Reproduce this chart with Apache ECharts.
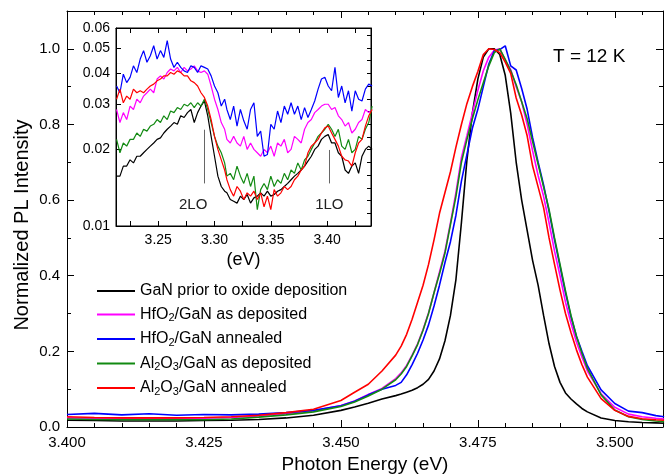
<!DOCTYPE html>
<html>
<head>
<meta charset="utf-8">
<script src="https://cdn.jsdelivr.net/npm/echarts@6/dist/echarts.min.js"></script>
<style>
html, body { margin: 0; padding: 0; background: #fff; }
#chart { width: 668px; height: 474px; }
</style>
</head>
<body>
<div id="chart"></div>
<script>
// main spectrum, photon energy (eV)
const energy = [3.400, 3.405, 3.410, 3.415, 3.420, 3.425, 3.430, 3.435, 3.440, 3.445, 3.450,
    3.4525, 3.455, 3.4575,
    3.460, 3.461, 3.462, 3.463, 3.464, 3.465, 3.466, 3.467, 3.468, 3.469,
    3.470, 3.471, 3.472, 3.473, 3.474, 3.475, 3.476, 3.477, 3.478, 3.479,
    3.480, 3.481, 3.482, 3.483, 3.484, 3.485, 3.486, 3.487, 3.488, 3.489,
    3.490, 3.491, 3.492, 3.493, 3.494, 3.495,
    3.4975, 3.500, 3.5025, 3.505, 3.5075, 3.509]

const ganPrior = [0.018, 0.017, 0.016, 0.016, 0.016, 0.017, 0.018, 0.020, 0.024, 0.031, 0.044,
    0.053, 0.063, 0.074,
    0.083, 0.087, 0.092, 0.097, 0.104, 0.113, 0.126, 0.148, 0.180, 0.228,
    0.295, 0.390, 0.540, 0.705, 0.830, 0.920, 0.978, 1.000, 1.000, 0.985,
    0.930, 0.830, 0.700, 0.600, 0.520, 0.440, 0.375, 0.295, 0.220, 0.160,
    0.118, 0.090, 0.074, 0.061, 0.049, 0.040,
    0.024, 0.017, 0.014, 0.012, 0.011, 0.010]
const hfoDep = [0.024, 0.023, 0.022, 0.022, 0.022, 0.023, 0.025, 0.029, 0.035, 0.043, 0.057,
    0.069, 0.086, 0.102,
    0.128, 0.143, 0.163, 0.190, 0.220, 0.258, 0.302, 0.355, 0.410, 0.465,
    0.540, 0.620, 0.712, 0.770, 0.830, 0.890, 0.942, 0.978, 0.996, 1.000,
    0.970, 0.945, 0.900, 0.860, 0.800, 0.730, 0.665, 0.610, 0.540, 0.465,
    0.400, 0.330, 0.275, 0.225, 0.185, 0.148,
    0.088, 0.052, 0.034, 0.027, 0.023, 0.021]
const hfoAnn = [0.033, 0.036, 0.032, 0.035, 0.031, 0.033, 0.032, 0.034, 0.038, 0.044, 0.056,
    0.068, 0.085, 0.100,
    0.110, 0.118, 0.138, 0.165, 0.195, 0.230, 0.270, 0.320, 0.375, 0.435,
    0.490, 0.560, 0.650, 0.720, 0.790, 0.840, 0.900, 0.960, 0.995, 0.998,
    1.008, 0.955, 0.944, 0.895, 0.840, 0.765, 0.700, 0.640, 0.570, 0.495,
    0.425, 0.355, 0.292, 0.240, 0.200, 0.162,
    0.098, 0.062, 0.042, 0.038, 0.030, 0.027]
const aloDep = [0.021, 0.020, 0.019, 0.019, 0.019, 0.019, 0.021, 0.026, 0.032, 0.040, 0.054,
    0.066, 0.082, 0.100,
    0.125, 0.140, 0.160, 0.188, 0.218, 0.256, 0.300, 0.355, 0.405, 0.460,
    0.535, 0.610, 0.700, 0.760, 0.815, 0.865, 0.910, 0.955, 0.990, 1.000,
    0.972, 0.942, 0.905, 0.860, 0.815, 0.755, 0.695, 0.635, 0.575, 0.500,
    0.430, 0.360, 0.295, 0.240, 0.195, 0.155,
    0.085, 0.045, 0.027, 0.020, 0.016, 0.014]
const aloAnn = [0.027, 0.025, 0.024, 0.024, 0.024, 0.025, 0.027, 0.031, 0.038, 0.047, 0.070,
    0.092, 0.113, 0.148,
    0.190, 0.214, 0.245, 0.285, 0.330, 0.375, 0.430, 0.495, 0.565, 0.620,
    0.675, 0.740, 0.800, 0.855, 0.900, 0.940, 0.985, 1.000, 0.998, 0.990,
    0.965, 0.935, 0.870, 0.825, 0.770, 0.690, 0.635, 0.580, 0.500, 0.430,
    0.362, 0.300, 0.250, 0.204, 0.165, 0.132,
    0.075, 0.044, 0.028, 0.022, 0.019, 0.018]

// inset, log scale
const insetEnergy = [3.213, 3.216, 3.219, 3.222, 3.225, 3.228, 3.231, 3.234, 3.237, 3.240,
    3.243, 3.246, 3.249, 3.252, 3.255, 3.258, 3.261, 3.264, 3.267, 3.270,
    3.273, 3.276, 3.279, 3.282, 3.285, 3.288, 3.291, 3.294, 3.297, 3.300,
    3.303, 3.306, 3.309, 3.311, 3.314, 3.317, 3.320, 3.323, 3.326, 3.329,
    3.332, 3.335, 3.338, 3.341, 3.344, 3.347, 3.350, 3.353, 3.356, 3.359,
    3.362, 3.365, 3.368, 3.371, 3.374, 3.377, 3.380, 3.383, 3.386, 3.389,
    3.392, 3.395, 3.398, 3.401, 3.404, 3.407, 3.410, 3.413, 3.416, 3.419,
    3.422, 3.425, 3.428, 3.431, 3.434, 3.437, 3.440]
const insetGan = [0.0157, 0.0157, 0.0172, 0.0172, 0.0182, 0.0177, 0.0188, 0.0188, 0.0194, 0.0200,
    0.0206, 0.0212, 0.0219, 0.0222, 0.0232, 0.0240, 0.0247, 0.0255, 0.0251, 0.0271,
    0.0267, 0.0279, 0.0287, 0.0255, 0.0279, 0.0296, 0.0310, 0.0271, 0.0225, 0.0188,
    0.0157, 0.0143, 0.0137, 0.0135, 0.0127, 0.0125, 0.0123, 0.0131, 0.0127, 0.0133,
    0.0123, 0.0129, 0.0131, 0.0135, 0.0131, 0.0137, 0.0131, 0.0133, 0.0137, 0.0139,
    0.0143, 0.0147, 0.0152, 0.0157, 0.0161, 0.0166, 0.0172, 0.0180, 0.0188, 0.0200,
    0.0206, 0.0219, 0.0225, 0.0229, 0.0212, 0.0212, 0.0194, 0.0188, 0.0166, 0.0161,
    0.0172, 0.0177, 0.0161, 0.0188, 0.0200, 0.0206, 0.0200]
const insetHfoDep = [0.0287, 0.0255, 0.0279, 0.0262, 0.0296, 0.0287, 0.0315, 0.0305, 0.0324, 0.0334,
    0.0345, 0.0334, 0.0378, 0.0389, 0.0378, 0.0401, 0.0414, 0.0407, 0.0420, 0.0401,
    0.0420, 0.0407, 0.0414, 0.0426, 0.0407, 0.0401, 0.0407, 0.0395, 0.0355, 0.0315,
    0.0287, 0.0255, 0.0240, 0.0219, 0.0212, 0.0225, 0.0212, 0.0206, 0.0225, 0.0200,
    0.0212, 0.0200, 0.0194, 0.0188, 0.0200, 0.0194, 0.0206, 0.0188, 0.0212, 0.0206,
    0.0219, 0.0194, 0.0200, 0.0225, 0.0219, 0.0212, 0.0240, 0.0255, 0.0262, 0.0279,
    0.0287, 0.0296, 0.0301, 0.0301, 0.0287, 0.0292, 0.0271, 0.0262, 0.0247, 0.0255,
    0.0232, 0.0240, 0.0255, 0.0262, 0.0287, 0.0279, 0.0287]
const insetHfoAnn = [0.0355, 0.0334, 0.0395, 0.0366, 0.0384, 0.0426, 0.0401, 0.0453, 0.0489, 0.0440,
    0.0467, 0.0511, 0.0453, 0.0489, 0.0460, 0.0535, 0.0453, 0.0420, 0.0440, 0.0420,
    0.0407, 0.0401, 0.0426, 0.0420, 0.0401, 0.0426, 0.0420, 0.0414, 0.0389, 0.0355,
    0.0334, 0.0296, 0.0315, 0.0287, 0.0262, 0.0296, 0.0247, 0.0287, 0.0259, 0.0240,
    0.0287, 0.0305, 0.0225, 0.0236, 0.0188, 0.0191, 0.0251, 0.0240, 0.0283, 0.0255,
    0.0296, 0.0275, 0.0305, 0.0275, 0.0296, 0.0262, 0.0292, 0.0267, 0.0287, 0.0310,
    0.0345, 0.0378, 0.0384, 0.0355, 0.0340, 0.0420, 0.0320, 0.0355, 0.0305, 0.0340,
    0.0283, 0.0340, 0.0315, 0.0310, 0.0345, 0.0361, 0.0355]
const insetAloDep = [0.0219, 0.0194, 0.0212, 0.0206, 0.0219, 0.0219, 0.0232, 0.0225, 0.0240, 0.0236,
    0.0247, 0.0251, 0.0262, 0.0255, 0.0271, 0.0262, 0.0283, 0.0279, 0.0292, 0.0287,
    0.0301, 0.0296, 0.0305, 0.0292, 0.0305, 0.0296, 0.0315, 0.0287, 0.0255, 0.0225,
    0.0206, 0.0194, 0.0177, 0.0157, 0.0161, 0.0152, 0.0172, 0.0157, 0.0147, 0.0161,
    0.0143, 0.0157, 0.0116, 0.0139, 0.0147, 0.0139, 0.0157, 0.0143, 0.0152, 0.0147,
    0.0161, 0.0152, 0.0166, 0.0161, 0.0177, 0.0166, 0.0182, 0.0188, 0.0200, 0.0212,
    0.0225, 0.0232, 0.0240, 0.0251, 0.0240, 0.0225, 0.0240, 0.0206, 0.0200, 0.0219,
    0.0194, 0.0200, 0.0225, 0.0219, 0.0240, 0.0255, 0.0296]
const insetAloAnn = [0.0315, 0.0345, 0.0305, 0.0324, 0.0315, 0.0345, 0.0334, 0.0340, 0.0334, 0.0345,
    0.0355, 0.0361, 0.0372, 0.0378, 0.0389, 0.0389, 0.0401, 0.0395, 0.0407, 0.0401,
    0.0389, 0.0389, 0.0372, 0.0366, 0.0355, 0.0334, 0.0320, 0.0296, 0.0262, 0.0225,
    0.0200, 0.0182, 0.0166, 0.0152, 0.0139, 0.0131, 0.0143, 0.0137, 0.0127, 0.0135,
    0.0131, 0.0137, 0.0127, 0.0135, 0.0119, 0.0131, 0.0116, 0.0139, 0.0131, 0.0135,
    0.0143, 0.0139, 0.0143, 0.0152, 0.0157, 0.0166, 0.0172, 0.0194, 0.0206, 0.0212,
    0.0219, 0.0232, 0.0243, 0.0247, 0.0232, 0.0219, 0.0206, 0.0188, 0.0182, 0.0180,
    0.0172, 0.0194, 0.0212, 0.0219, 0.0247, 0.0271, 0.0287]

// phonon replica markers
const loNames = ['2LO', '1LO']
const loEnergy = [3.291, 3.402]
const loTop = [0.0239, 0.0199]
const loBottom = 0.0147
const loLabelEnergy = [3.281, 3.402]
const loLabelLevel = 0.0121

const names = ['GaN prior to oxide deposition', 'HfO2/GaN as deposited', 'HfO2/GaN annealed',
    'Al2O3/GaN as deposited', 'Al2O3/GaN annealed']
const colors = ['#000000', '#ff00ff', '#0000ff', '#128a12', '#ff0000']
const mainValues = [ganPrior, hfoDep, hfoAnn, aloDep, aloAnn]
const insetValues = [insetGan, insetHfoDep, insetHfoAnn, insetAloDep, insetAloAnn]

const insetXTicks = [3.225, 3.25, 3.275, 3.30, 3.325, 3.35, 3.375, 3.40, 3.425]
const insetXLabels = [3.25, 3.30, 3.35, 3.40]
const insetYLabels = [0.01, 0.02, 0.03, 0.04, 0.05, 0.06]

const font = 'Liberation Sans, Arial, Helvetica, sans-serif'
const zip = (xs, ys) => xs.map((x, i) => [x, ys[i]])

function boxAxis(opt) { // axis line with inward ticks
    return Object.assign({
        type: 'value',
        axisLine: {show: true, onZero: false, lineStyle: {color: '#000', width: 1}},
        axisTick: {show: true, inside: true, length: 7, lineStyle: {color: '#000'}},
        splitLine: {show: false},
        axisLabel: {show: false}
    }, opt)
}

const chart = echarts.init(document.getElementById('chart'), null, {renderer: 'canvas'})

// minor ticks on the right side of the inset, evenly spaced in log
const rightLogTicks = []
for (let k = 1; k < 16; k++) rightLogTicks.push(Math.pow(10, -2 + 0.05 * k))

const series = []
names.forEach((n, i) => {
    series.push({
        name: n, type: 'line', xAxisIndex: 0, yAxisIndex: 0,
        data: zip(energy, mainValues[i]),
        showSymbol: false, symbol: 'none',
        color: colors[i],
        lineStyle: {color: colors[i], width: 1.6},
        z: 3 + i
    })
})
names.forEach((n, i) => {
    const s = {
        name: n, type: 'line', xAxisIndex: 2, yAxisIndex: 2,
        data: zip(insetEnergy, insetValues[i]),
        showSymbol: false, symbol: 'none',
        color: colors[i],
        lineStyle: {color: colors[i], width: 1.2},
        z: 3 + i
    }
    if (i === 0) {
        s.markLine = {
            silent: true, symbol: 'none', animation: false,
            label: {show: false},
            lineStyle: {color: '#666', width: 1, type: 'solid'},
            data: loEnergy.map((e, k) => [{coord: [e, loBottom]}, {coord: [e, loTop[k]]}])
        }
        s.markPoint = {
            silent: true, symbol: 'circle', symbolSize: 1, animation: false,
            itemStyle: {color: 'rgba(0,0,0,0)'},
            label: {show: true, position: 'inside', formatter: '{b}', color: '#222', fontSize: 15, fontFamily: font},
            data: loNames.map((nm, k) => ({name: nm, coord: [loLabelEnergy[k], loLabelLevel]}))
        }
    }
    series.push(s)
})

const option = {
    animation: false,
    textStyle: {fontFamily: font},
    grid: [
        {left: 67, right: 5, top: 11, bottom: 47, containLabel: false, outerBoundsMode: 'none'},
        {left: 116, top: 28, width: 255, height: 198, containLabel: false, outerBoundsMode: 'none',
            show: true, backgroundColor: '#fff', borderColor: '#000', borderWidth: 1}
    ],
    legend: {
        orient: 'vertical', left: 97, top: 283, padding: 0,
        itemWidth: 38, itemHeight: 2, itemGap: 7.5, icon: 'rect',
        data: names,
        selectedMode: false,
        formatter: name => '{n|' + name.replace(/(\d)/g, '}{s|$1}{n|') + '}',
        textStyle: {
            color: '#000',
            rich: {
                n: {fontSize: 16, lineHeight: 18, color: '#000', fontFamily: font},
                s: {fontSize: 11, lineHeight: 10, verticalAlign: 'bottom', color: '#000', fontFamily: font}
            }
        }
    },
    graphic: [{
        type: 'text', left: 553, top: 47,
        style: {text: 'T = 12 K', fontSize: 19, fill: '#000', fontFamily: font}
    }],
    xAxis: [
        boxAxis({
            gridIndex: 0, position: 'bottom', min: 3.4, max: 3.5088, interval: 0.025,
            minorTick: {show: true, splitNumber: 5, length: 4, lineStyle: {color: '#000'}},
            axisLabel: {show: true, fontSize: 15, color: '#000', margin: 8, showMaxLabel: false, formatter: v => v.toFixed(3)},
            name: 'Photon Energy (eV)', nameLocation: 'middle', nameGap: 27,
            nameTextStyle: {fontSize: 19, color: '#000'}
        }),
        boxAxis({
            gridIndex: 0, position: 'top', min: 3.4, max: 3.5088, interval: 0.025,
            minorTick: {show: true, splitNumber: 5, length: 4, lineStyle: {color: '#000'}}
        }),
        boxAxis({
            gridIndex: 1, position: 'bottom', min: 3.2125, max: 3.439,
            axisTick: {show: true, inside: true, length: 5, customValues: insetXTicks, lineStyle: {color: '#000'}},
            axisLabel: {show: true, customValues: insetXLabels, fontSize: 14, color: '#000', margin: 7, formatter: v => v.toFixed(2)},
            name: '(eV)', nameLocation: 'middle', nameGap: 25,
            nameTextStyle: {fontSize: 18, color: '#000'}
        }),
        boxAxis({
            gridIndex: 1, position: 'top', min: 3.2125, max: 3.439,
            axisTick: {show: true, inside: true, length: 5, customValues: insetXTicks, lineStyle: {color: '#000'}}
        })
    ],
    yAxis: [
        boxAxis({
            gridIndex: 0, position: 'left', min: 0, max: 1.1, interval: 0.2,
            minorTick: {show: true, splitNumber: 2, length: 4, lineStyle: {color: '#000'}},
            axisLabel: {show: true, fontSize: 15, color: '#000', margin: 7, showMaxLabel: false, formatter: v => v.toFixed(1)},
            name: 'Normalized PL Intensity', nameLocation: 'middle', nameGap: 35, nameMoveOverlap: false,
            nameTextStyle: {fontSize: 20, color: '#000', padding: [0, 12, 0, 0]}
        }),
        boxAxis({
            gridIndex: 0, position: 'right', min: 0, max: 1.1, interval: 0.2,
            minorTick: {show: true, splitNumber: 2, length: 4, lineStyle: {color: '#000'}}
        }),
        boxAxis({
            gridIndex: 1, type: 'log', logBase: 10, position: 'left', min: 0.01, max: 0.06,
            axisTick: {show: true, inside: true, length: 5, customValues: insetYLabels, lineStyle: {color: '#000'}},
            axisLabel: {show: true, customValues: insetYLabels, fontSize: 14, color: '#000', margin: 6, formatter: v => Number(v).toFixed(2)}
        }),
        boxAxis({
            gridIndex: 1, type: 'log', logBase: 10, position: 'right', min: 0.01, max: 0.06,
            axisTick: {show: true, inside: true, length: 4, customValues: rightLogTicks, lineStyle: {color: '#000'}}
        })
    ],
    series: series
}
chart.setOption(option)
</script>
</body>
</html>
